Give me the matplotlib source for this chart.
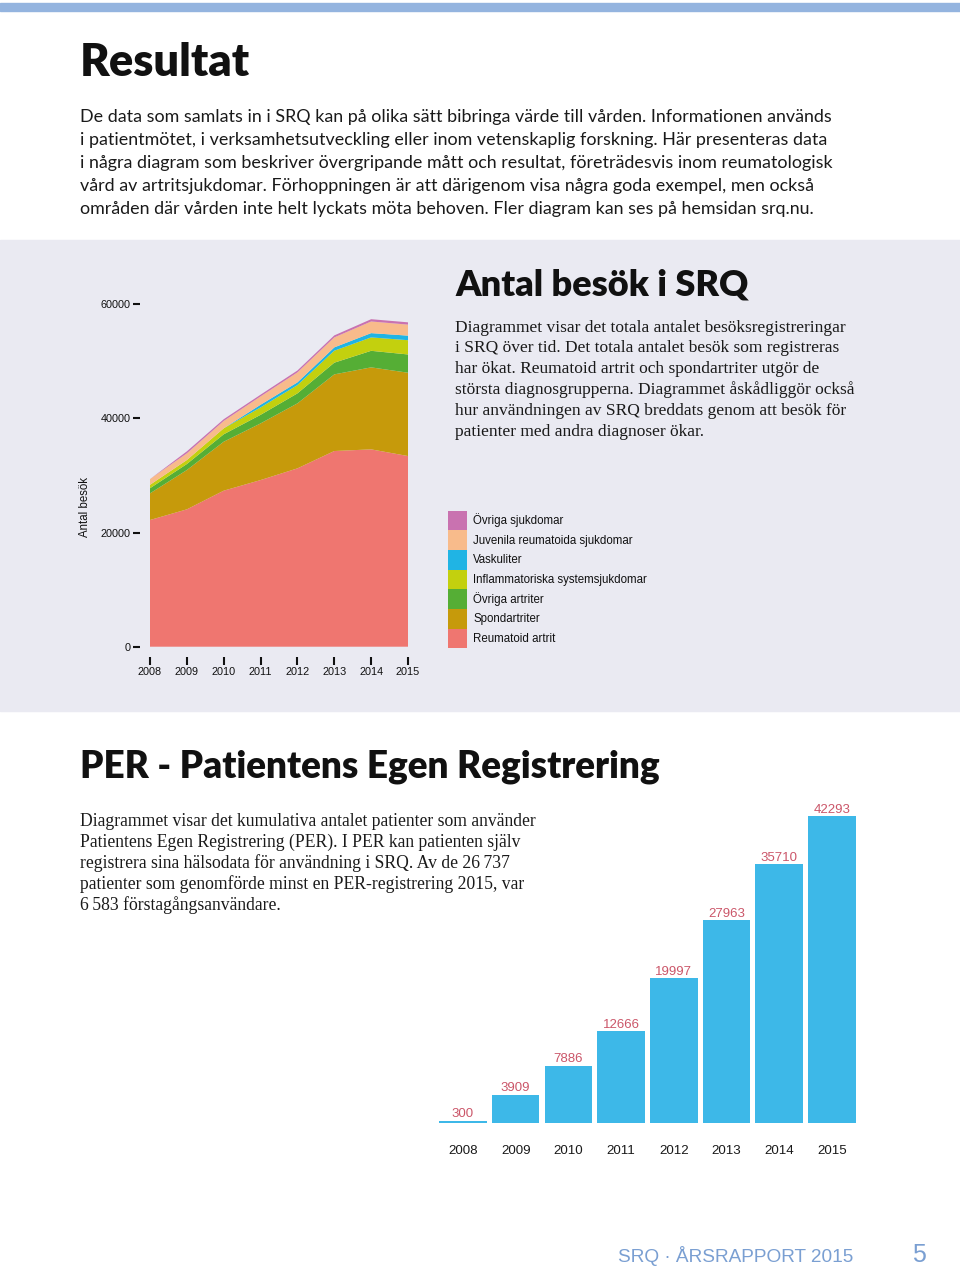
import matplotlib
matplotlib.use("Agg")
import matplotlib.pyplot as plt
from matplotlib.patches import Rectangle

# ---------------- data ----------------
years = [2008, 2009, 2010, 2011, 2012, 2013, 2014, 2015]
year_labels = [str(y) for y in years]

reumatoid_artrit = [22200, 24070, 27340, 29200, 31250, 34290, 34580, 33410]
spondartriter = [4670, 6890, 8580, 9930, 11390, 13430, 14370, 14600]
ovriga_artriter = [900, 1050, 1300, 1500, 1750, 2050, 2900, 3200]
inflammatoriska = [600, 700, 1050, 1300, 1450, 2100, 2350, 2500]
vaskuliter = [0, 0, 0, 470, 480, 580, 750, 800]
juvenila = [1000, 1170, 1290, 1460, 1750, 1750, 2040, 1930]
ovriga_sjukdomar = [0, 350, 300, 300, 330, 350, 400, 400]

series_names = ["Reumatoid artrit", "Spondartriter", "Övriga artriter",
                "Inflammatoriska systemsjukdomar", "Vaskuliter",
                "Juvenila reumatoida sjukdomar", "Övriga sjukdomar"]
series_colors = ["#ef7670", "#c69a0b", "#55ae35", "#c3d00e",
                 "#20b4e4", "#f8bb8b", "#c972b0"]
y_ticks = [0, 20000, 40000, 60000]
y_tick_labels = ["0", "20000", "40000", "60000"]

per_values = [300, 3909, 7886, 12666, 19997, 27963, 35710, 42293]

title_main = "Resultat"
para1 = [
    "De data som samlats in i SRQ kan på olika sätt bibringa värde till vården. Informationen används",
    "i patientmötet, i verksamhetsutveckling eller inom vetenskaplig forskning. Här presenteras data",
    "i några diagram som beskriver övergripande mått och resultat, företrädesvis inom reumatologisk",
    "vård av artritsjukdomar. Förhoppningen är att därigenom visa några goda exempel, men också",
    "områden där vården inte helt lyckats möta behoven. Fler diagram kan ses på hemsidan srq.nu.",
]
title_srq = "Antal besök i SRQ"
para2 = [
    "Diagrammet visar det totala antalet besöksregistreringar",
    "i SRQ över tid. Det totala antalet besök som registreras",
    "har ökat. Reumatoid artrit och spondartriter utgör de",
    "största diagnosgrupperna. Diagrammet åskådliggör också",
    "hur användningen av SRQ breddats genom att besök för",
    "patienter med andra diagnoser ökar.",
]
title_per = "PER - Patientens Egen Registrering"
para3 = [
    "Diagrammet visar det kumulativa antalet patienter som använder",
    "Patientens Egen Registrering (PER). I PER kan patienten själv",
    "registrera sina hälsodata för användning i SRQ. Av de 26\u2009737",
    "patienter som genomförde minst en PER-registrering 2015, var",
    "6\u2009583 förstagångsanvändare.",
]
footer_text = "SRQ · ÅRSRAPPORT 2015"
page_no = "5"

# ---------------- layout helpers ----------------
W, H = 960, 1270
fig = plt.figure(figsize=(W / 100, H / 100), dpi=100)
fig.patch.set_facecolor("white")


def fx(x):
    return x / W


def fy(y):
    return 1 - y / H


renderer = fig.canvas.get_renderer()


def fit(t, target_px):
    w = t.get_window_extent(renderer).width
    t.set_fontsize(t.get_fontsize() * target_px / w)
    return t.get_fontsize()


SANS = ["Lato", "DejaVu Sans"]
SERIF = ["Liberation Serif", "DejaVu Serif"]
HEAD = ["Lato", "DejaVu Sans"]
ARIAL = ["Liberation Sans", "DejaVu Sans"]

# background decorations (behind everything)
fig.patches.append(Rectangle((0, fy(10.7)), 1, (10.7 - 2.7) / H,
                             transform=fig.transFigure, color="#94b4df",
                             zorder=-10))
fig.patches.append(Rectangle((0, fy(711)), 1, (711 - 240) / H,
                             transform=fig.transFigure, color="#eaeaf2",
                             zorder=-10))

# headings
t = fig.text(fx(80), fy(76), title_main, fontsize=30, family=HEAD,
             weight="heavy", va="baseline", color="#111111")
fit(t, 170)
t = fig.text(fx(455), fy(295), title_srq, fontsize=22, family=HEAD,
             weight="heavy", va="baseline", color="#111111")
fit(t, 293)
t = fig.text(fx(80), fy(777), title_per, fontsize=24, family=HEAD,
             weight="heavy", va="baseline", color="#111111")
fit(t, 582)


def paragraph(lines, x, y0, dy, target_px, family, color="#1a1a1a"):
    ts = [fig.text(fx(x), fy(y0 + i * dy), s, fontsize=12, family=family,
                   va="baseline", color=color) for i, s in enumerate(lines)]
    fs = fit(ts[0], target_px)
    for tt in ts[1:]:
        tt.set_fontsize(fs)


paragraph(para1, 80, 122, 22.9, 747, SANS)
paragraph(para2, 455, 331.5, 20.95, 388, SERIF)
paragraph(para3, 80, 826.5, 20.85, 455, SERIF)

# footer
t = fig.text(fx(618), fy(1261.7), footer_text, fontsize=15, family=ARIAL,
             va="baseline", color="#7a9fd2")
fit(t, 237)
fig.text(fx(912), fy(1262.3), page_no, fontsize=18, family=ARIAL,
         va="baseline", color="#7a9fd2")

# ---------------- stacked area chart ----------------
ax = fig.add_axes([fx(150), fy(646.7), (408 - 150) / W, (646.7 - 304.3) / H])
ax.set_facecolor("none")
polys = ax.stackplot(years, reumatoid_artrit, spondartriter, ovriga_artriter,
                     inflammatoriska, vaskuliter, juvenila, ovriga_sjukdomar,
                     colors=series_colors, labels=series_names, linewidth=0)
ax.set_xlim(years[0], years[-1])
ax.set_ylim(0, 60000)
for s in ax.spines.values():
    s.set_visible(False)
ax.spines["left"].set_position(("outward", 7.2))
ax.spines["bottom"].set_position(("outward", 7.2))
ax.set_xticks(years)
ax.set_xticklabels(year_labels)
ax.set_yticks(y_ticks)
ax.set_yticklabels(y_tick_labels)
ax.tick_params(axis="y", length=5, width=1.5, pad=2, labelsize=7.8,
               colors="#111111")
ax.tick_params(axis="x", length=5.8, width=1.5, pad=1.5, labelsize=7.8,
               colors="#111111")
for lab in ax.get_xticklabels() + ax.get_yticklabels():
    lab.set_family(ARIAL)
fig.text(fx(85), fy(507), "Antal besök", rotation=90, ha="center",
         va="center", fontsize=8.3, family=ARIAL, color="#111111")

handles, labels = ax.get_legend_handles_labels()
fs_leg = 8.3
fs_px = fs_leg * 100 / 72
# legend patch height = fs*(0.65*hh + 0.245); want 19.66 px
hh = ((19.66 / fs_px) - 0.245) / 0.65
leg = fig.legend(handles[::-1], labels[::-1], loc="upper left",
                 bbox_to_anchor=(fx(448.3), fy(510.7)),
                 bbox_transform=fig.transFigure, frameon=False,
                 borderpad=0, borderaxespad=0, labelspacing=0,
                 handlelength=18.4 / fs_px, handleheight=hh,
                 handletextpad=6.6 / fs_px,
                 prop={"family": ARIAL, "size": fs_leg})
for txt in leg.get_texts():
    txt.set_color("#111111")

# ---------------- PER bar chart ----------------
step = 52.7
bx0 = 463 - step / 2
bax = fig.add_axes([fx(bx0), fy(1123), 8 * step / W, (1123 - 796.75) / H])
bax.set_facecolor("none")
xpos = list(range(len(year_labels)))
bars = bax.bar(xpos, per_values, width=0.9, color="#3db8e8", linewidth=0)
bax.set_xlim(-0.5, 7.5)
bax.set_ylim(0, 45000)
for s in bax.spines.values():
    s.set_visible(False)
bax.set_yticks([])
bax.set_xticks(xpos)
bax.set_xticklabels(year_labels)
bax.tick_params(axis="x", length=0, pad=15.5, labelsize=9.6, colors="#1a1a1a")
for lab in bax.get_xticklabels():
    lab.set_family(ARIAL)
for x, v in zip(xpos, per_values):
    bax.annotate(str(v), (x, v), xytext=(0, 2.4), textcoords="offset points",
                 ha="center", va="baseline", fontsize=9.5, family=ARIAL,
                 color="#cb5669")

fig.savefig("out.png", dpi=100)
